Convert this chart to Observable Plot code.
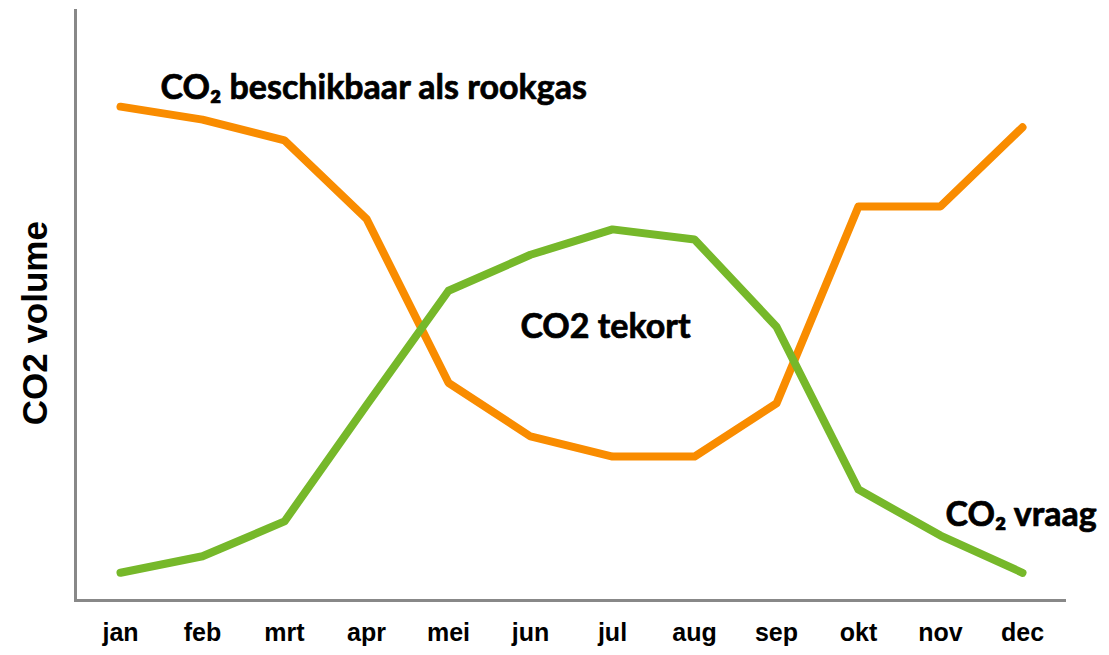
<!DOCTYPE html>
<html>
<head>
<meta charset="utf-8">
<script src="https://cdn.jsdelivr.net/npm/d3@7"></script>
<script src="https://cdn.jsdelivr.net/npm/@observablehq/plot@0.6"></script>
<style>
  html, body { margin: 0; padding: 0; background: #fff; }
</style>
</head>
<body>
<div id="chart"></div>
<script>
const months = ["jan","feb","mrt","apr","mei","jun","jul","aug","sep","okt","nov","dec"];
const beschikbaar = [83.7, 81.5, 78.0, 64.7, 36.9, 27.8, 24.4, 24.4, 33.4, 66.8, 66.8, 80.2];
const vraag = [4.7, 7.5, 13.4, 33.1, 52.5, 58.6, 62.9, 61.2, 46.4, 18.8, 11.0, 4.7];
const labelBeschikbaar = [{text: "CO₂ beschikbaar als rookgas", month: "jan", value: 86.8}];
const labelTekort = [{text: "CO2 tekort", month: "jul", value: 46.3}];
const labelVraag = [{text: "CO₂ vraag", month: "nov", value: 14.4}];
const yTitle = [{text: "CO2 volume", value: 47}];

const orangeData = months.map((m, i) => ({month: m, value: beschikbaar[i]}));
const greenData = months.map((m, i) => ({month: m, value: vraag[i]}));

const annot = {x: "month", y: "value", text: "text", fontSize: 34, fontWeight: "bold", fontFamily: "Lato, Open Sans, sans-serif", fill: "#000", stroke: "#000", strokeWidth: 0.7};

const chart = Plot.plot({
  width: 1109,
  height: 655,
  marginLeft: 75,
  marginRight: 43,
  marginTop: 10,
  marginBottom: 55,
  style: {fontFamily: "Liberation Sans, Arial, sans-serif", background: "#fff"},
  x: {type: "point", domain: months, padding: 0.5, label: null},
  y: {domain: [0, 100], axis: null},
  marks: [
    Plot.frame({anchor: "left", stroke: "#888", strokeWidth: 3}),
    Plot.ruleY([0], {stroke: "#888", strokeWidth: 3}),
    Plot.axisX({tickSize: 0, tickPadding: 23, fontSize: 25, fontWeight: "bold", fill: "#000", label: null}),
    Plot.text(yTitle, {frameAnchor: "left", y: "value", text: "text", textAnchor: "middle", dx: -40, rotate: -90, fontSize: 35, fontWeight: "bold", fill: "#000"}),
    Plot.line(orangeData, {x: "month", y: "value", stroke: "#F98C00", strokeWidth: 8, strokeLinecap: "round", strokeLinejoin: "round"}),
    Plot.line(greenData, {x: "month", y: "value", stroke: "#76B82A", strokeWidth: 8, strokeLinecap: "round", strokeLinejoin: "round"}),
    Plot.text(labelBeschikbaar, {...annot, textAnchor: "start", dx: 40}),
    Plot.text(labelTekort, {...annot, textAnchor: "middle", dx: -7}),
    Plot.text(labelVraag, {...annot, textAnchor: "start", dx: 5})
  ]
});
document.getElementById("chart").appendChild(chart);
</script>
</body>
</html>
